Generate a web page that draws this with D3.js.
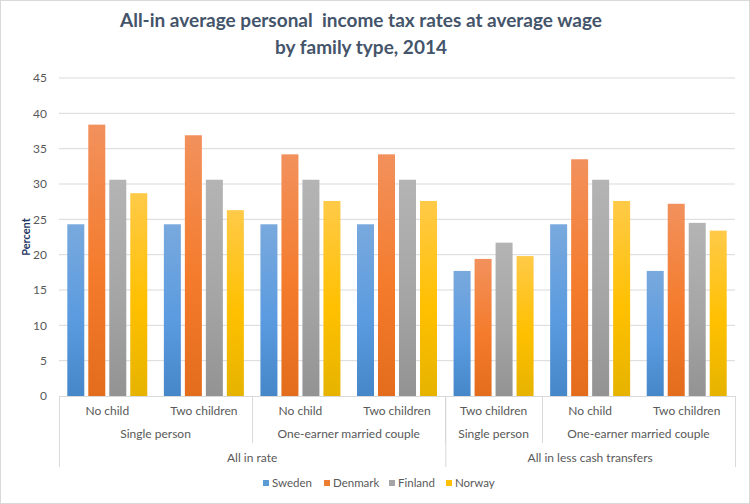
<!DOCTYPE html>
<html>
<head>
<meta charset="utf-8">
<script src="https://cdn.jsdelivr.net/npm/d3@7"></script>
<style>
  body { margin: 0; background: #fff; }
  text { font-family: Lato, "Open Sans", sans-serif; }
</style>
</head>
<body>
<div id="chart"></div>
<script>
// Tax rates by family type, 2014

// Data
var categories = ["No child", "Two children", "No child", "Two children", "Two children", "No child", "Two children"];
var familyLabels = ["Single person", "One-earner married couple", "Single person", "One-earner married couple"];
var familySpans = [2, 2, 1, 2];
var rateLabels = ["All in rate", "All in less cash transfers"];
var rateSpans = [4, 3];
var seriesNames = ["Sweden", "Denmark", "Finland", "Norway"];
var sweden = [24.3, 24.3, 24.3, 24.3, 17.7, 24.3, 17.7];
var denmark = [38.4, 36.9, 34.2, 34.2, 19.4, 33.5, 27.2];
var finland = [30.6, 30.6, 30.6, 30.6, 21.7, 30.6, 24.5];
var norway = [28.7, 26.3, 27.6, 27.6, 19.8, 27.6, 23.4];
var yTicks = [0, 5, 10, 15, 20, 25, 30, 35, 40, 45];

var seriesValues = [sweden, denmark, finland, norway];
// gradient stops per series: top, middle, bottom
var seriesColors = [
  ["#79a9dd", "#5b9be0", "#4587c9"],
  ["#f2915d", "#f47b2b", "#e36c1d"],
  ["#b4b4b4", "#a5a5a5", "#939393"],
  ["#ffca48", "#ffc000", "#e6b300"]
];
var legendColors = ["#5b9bd5", "#ed7d31", "#a5a5a5", "#ffc000"];

// SVG area
var svgWidth = 750;
var svgHeight = 504;
var margin = { top: 78, right: 15, bottom: 108, left: 59 };
var width = svgWidth - margin.left - margin.right;
var height = svgHeight - margin.top - margin.bottom;

var svg = d3.select("#chart")
  .append("svg")
  .attr("width", svgWidth)
  .attr("height", svgHeight);

svg.append("rect")
  .attr("x", 0.5).attr("y", 0.5)
  .attr("width", svgWidth - 1).attr("height", svgHeight - 1)
  .attr("fill", "#fff")
  .attr("stroke", "#d9d9d9");

// gradients
var defs = svg.append("defs");
seriesNames.forEach(function(name, i) {
  var g = defs.append("linearGradient")
    .attr("id", "grad" + i)
    .attr("x1", 0).attr("y1", 0).attr("x2", 0).attr("y2", 1);
  g.append("stop").attr("offset", "0%").attr("stop-color", seriesColors[i][0]);
  g.append("stop").attr("offset", "55%").attr("stop-color", seriesColors[i][1]);
  g.append("stop").attr("offset", "100%").attr("stop-color", seriesColors[i][2]);
});

var chartGroup = svg.append("g")
  .attr("transform", `translate(${margin.left}, ${margin.top})`);

// scales
var xScale = d3.scaleBand()
  .domain(d3.range(categories.length))
  .range([0, width]);

var xSub = d3.scaleBand()
  .domain(seriesNames)
  .range([0, xScale.bandwidth()])
  .paddingInner(0.19)
  .paddingOuter(0.395);

var yScale = d3.scaleLinear()
  .domain([0, 45])
  .range([height, 0]);

// gridlines
chartGroup.append("g")
  .selectAll("line")
  .data(yTicks.slice(1))
  .enter()
  .append("line")
  .attr("x1", 0).attr("x2", width)
  .attr("y1", d => yScale(d)).attr("y2", d => yScale(d))
  .attr("stroke", "#d9d9d9")
  .attr("stroke-width", 1);

// y axis
var leftAxis = d3.axisLeft(yScale).tickValues(yTicks).tickSize(0).tickPadding(12);
var yAxisG = chartGroup.append("g").call(leftAxis);
yAxisG.select(".domain").remove();
yAxisG.selectAll("text")
  .attr("font-size", "12px")
  .attr("fill", "#595959")
  .style("font-family", "Lato, sans-serif");

// bars
var rows = categories.map(function(c, i) {
  return seriesNames.map(function(s, j) { return { cat: i, series: s, idx: j, value: seriesValues[j][i] }; });
});

chartGroup.selectAll("g.cat")
  .data(rows)
  .enter()
  .append("g")
  .attr("class", "cat")
  .attr("transform", (d, i) => `translate(${xScale(i)}, 0)`)
  .selectAll("rect")
  .data(d => d)
  .enter()
  .append("rect")
  .attr("x", d => xSub(d.series))
  .attr("width", xSub.bandwidth())
  .attr("y", d => yScale(d.value))
  .attr("height", d => height - yScale(d.value))
  .attr("fill", d => `url(#grad${d.idx})`);

// category axis baseline
var axisColor = "#d9d9d9";
chartGroup.append("line")
  .attr("x1", 0).attr("x2", width)
  .attr("y1", height + 0.5).attr("y2", height + 0.5)
  .attr("stroke", axisColor);

// level 1 labels
chartGroup.selectAll("text.cat")
  .data(categories)
  .enter()
  .append("text")
  .attr("class", "cat")
  .attr("x", (d, i) => xScale(i) + xScale.bandwidth() / 2)
  .attr("y", height + 19)
  .attr("text-anchor", "middle")
  .attr("font-size", "12px")
  .attr("fill", "#595959")
  .text(d => d);

// level 2 labels and separators
var start = 0;
var familyPos = familySpans.map(function(s) { var p = { from: start, to: start + s }; start += s; return p; });
chartGroup.selectAll("text.family")
  .data(familyLabels)
  .enter()
  .append("text")
  .attr("class", "family")
  .attr("x", (d, i) => (xScale(familyPos[i].from) + xScale(familyPos[i].to - 1) + xScale.bandwidth()) / 2)
  .attr("y", height + 42)
  .attr("text-anchor", "middle")
  .attr("font-size", "12px")
  .attr("fill", "#595959")
  .text(d => d);

chartGroup.selectAll("line.famsep")
  .data(familyPos.slice(0, -1))
  .enter()
  .append("line")
  .attr("class", "famsep")
  .attr("x1", d => Math.round(xScale(d.to)) + 0.5)
  .attr("x2", d => Math.round(xScale(d.to)) + 0.5)
  .attr("y1", height).attr("y2", height + 47)
  .attr("stroke", axisColor);

// level 3 labels and separators
start = 0;
var ratePos = rateSpans.map(function(s) { var p = { from: start, to: start + s }; start += s; return p; });
chartGroup.selectAll("text.rate")
  .data(rateLabels)
  .enter()
  .append("text")
  .attr("class", "rate")
  .attr("x", (d, i) => (xScale(ratePos[i].from) + xScale(ratePos[i].to - 1) + xScale.bandwidth()) / 2)
  .attr("y", height + 66)
  .attr("text-anchor", "middle")
  .attr("font-size", "12px")
  .attr("fill", "#595959")
  .text(d => d);

var rateEdges = [0].concat(ratePos.map(d => d.to));
chartGroup.selectAll("line.ratesep")
  .data(rateEdges)
  .enter()
  .append("line")
  .attr("class", "ratesep")
  .attr("x1", d => (d === categories.length ? width : xScale(d)) + 0.5)
  .attr("x2", d => (d === categories.length ? width : xScale(d)) + 0.5)
  .attr("y1", height).attr("y2", height + 71)
  .attr("stroke", axisColor);

// y axis title
svg.append("text")
  .attr("transform", "rotate(-90)")
  .attr("x", -237)
  .attr("y", 30)
  .attr("text-anchor", "middle")
  .attr("font-size", "11px")
  .attr("font-weight", "bold")
  .attr("fill", "#1f3864")
  .text("Percent");

// title
var titleLines = ["All-in average personal  income tax rates at average wage", "by family type, 2014"];
svg.selectAll("text.title")
  .data(titleLines)
  .enter()
  .append("text")
  .attr("class", "title")
  .attr("x", 361)
  .attr("y", (d, i) => 27 + i * 27)
  .attr("text-anchor", "middle")
  .attr("font-size", "19px")
  .attr("font-weight", "bold")
  .attr("fill", "#44546a")
  .style("white-space", "pre")
  .text(d => d);

// legend
var legendX = [263, 324, 389, 446];
var legend = svg.selectAll("g.legend")
  .data(seriesNames)
  .enter()
  .append("g")
  .attr("class", "legend")
  .attr("transform", (d, i) => `translate(${legendX[i]}, 480)`);

legend.append("rect")
  .attr("x", 0).attr("y", 0)
  .attr("width", 6).attr("height", 6)
  .attr("fill", (d, i) => legendColors[i]);

legend.append("text")
  .attr("x", 9)
  .attr("y", 7)
  .attr("font-size", "11.5px")
  .attr("fill", "#595959")
  .text(d => d);
</script>
</body>
</html>
